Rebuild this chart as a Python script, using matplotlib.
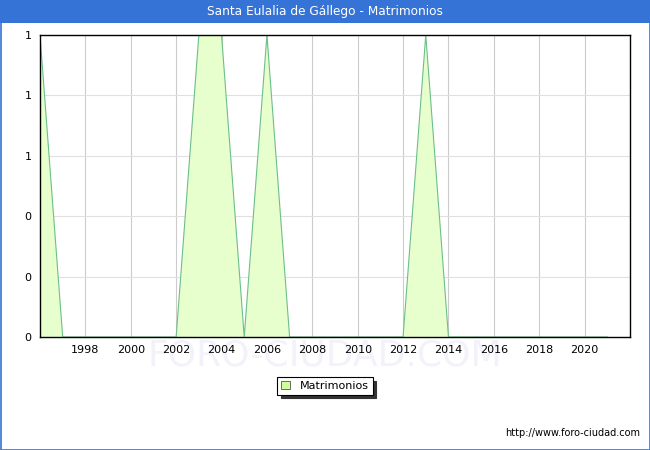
import matplotlib
matplotlib.use("Agg")
import matplotlib.pyplot as plt
from matplotlib.patches import Rectangle
from matplotlib.ticker import MultipleLocator, FuncFormatter

years = list(range(1996, 2022))
matrimonios = [1, 0, 0, 0, 0, 0, 0, 1, 1, 0, 1, 0, 0, 0, 0, 0, 0,
               1, 0, 0, 0, 0, 0, 0, 0, 0]
x_ticks = list(range(1998, 2021, 2))

TITLE = 'Santa Eulalia de Gállego - Matrimonios'
BLUE = '#3574d6'
FILL = '#e6ffcc'
EDGE = '#6cbf8c'

fig = plt.figure(figsize=(6.5, 4.5), dpi=100)
W, H = 650.0, 450.0

# title bar and outer border
fig.patches.append(Rectangle((0, 1 - 23 / H), 1, 23 / H, transform=fig.transFigure,
                             facecolor=BLUE, edgecolor='none', zorder=0))
fig.patches.append(Rectangle((0.5 / W, 0.5 / H), 1 - 1 / W, 1 - 1 / H,
                             transform=fig.transFigure, facecolor='none',
                             edgecolor=BLUE, linewidth=1.2, zorder=5))
fig.text(0.5, 1 - 11.5 / H, TITLE, color='white', fontsize=8.7,
         ha='center', va='center')

axs = fig.add_axes([40 / W, 1 - 337 / H, 590 / W, 302 / H])
axs.fill_between(years, matrimonios, 0, facecolor=FILL, edgecolor='none', zorder=2)
axs.plot(years, matrimonios, color=EDGE, linewidth=0.8, zorder=3)

axs.set_xlim(1996, 2022)
axs.set_ylim(0, 1)
axs.set_xticks(x_ticks)
axs.yaxis.set_major_locator(MultipleLocator(0.2))
axs.yaxis.set_major_formatter(FuncFormatter(lambda v, p: '%.0f' % v))
axs.xaxis.grid(True, color='#cccccc', linewidth=0.8, zorder=1)
axs.yaxis.grid(True, color='#e0e0e0', linewidth=0.8, zorder=1)
axs.set_axisbelow(True)
axs.tick_params(length=0, labelsize=8, pad=6)
for s in axs.spines.values():
  s.set_linewidth(1.0)
  s.set_color('black')
  s.set_zorder(4)

# watermark
fig.text(0.5, 1 - 355 / H, 'FORO-CIUDAD.COM', color='#f2f2fa', fontsize=26,
         ha='center', va='center', zorder=-1)

# legend with shadow
leg = fig.legend([Rectangle((0, 0), 1, 1, facecolor='#ccff99', edgecolor='#555555',
                            linewidth=0.6)],
                 ['Matrimonios'], loc='center', bbox_to_anchor=(0.5, 1 - 386 / H),
                 fontsize=8, frameon=True, fancybox=False,
                 shadow={'color': '#333333', 'alpha': 1.0, 'ox': 2.5, 'oy': -2.5},
                 handlelength=0.8, handleheight=0.8, borderpad=0.35,
                 handletextpad=0.9)
leg.get_frame().set_edgecolor('black')
leg.get_frame().set_linewidth(0.8)

fig.text(1 - 10 / W, 1 - 433 / H, 'http://www.foro-ciudad.com', fontsize=7,
         ha='right', va='center')

fig.savefig('out.png', dpi=100)
